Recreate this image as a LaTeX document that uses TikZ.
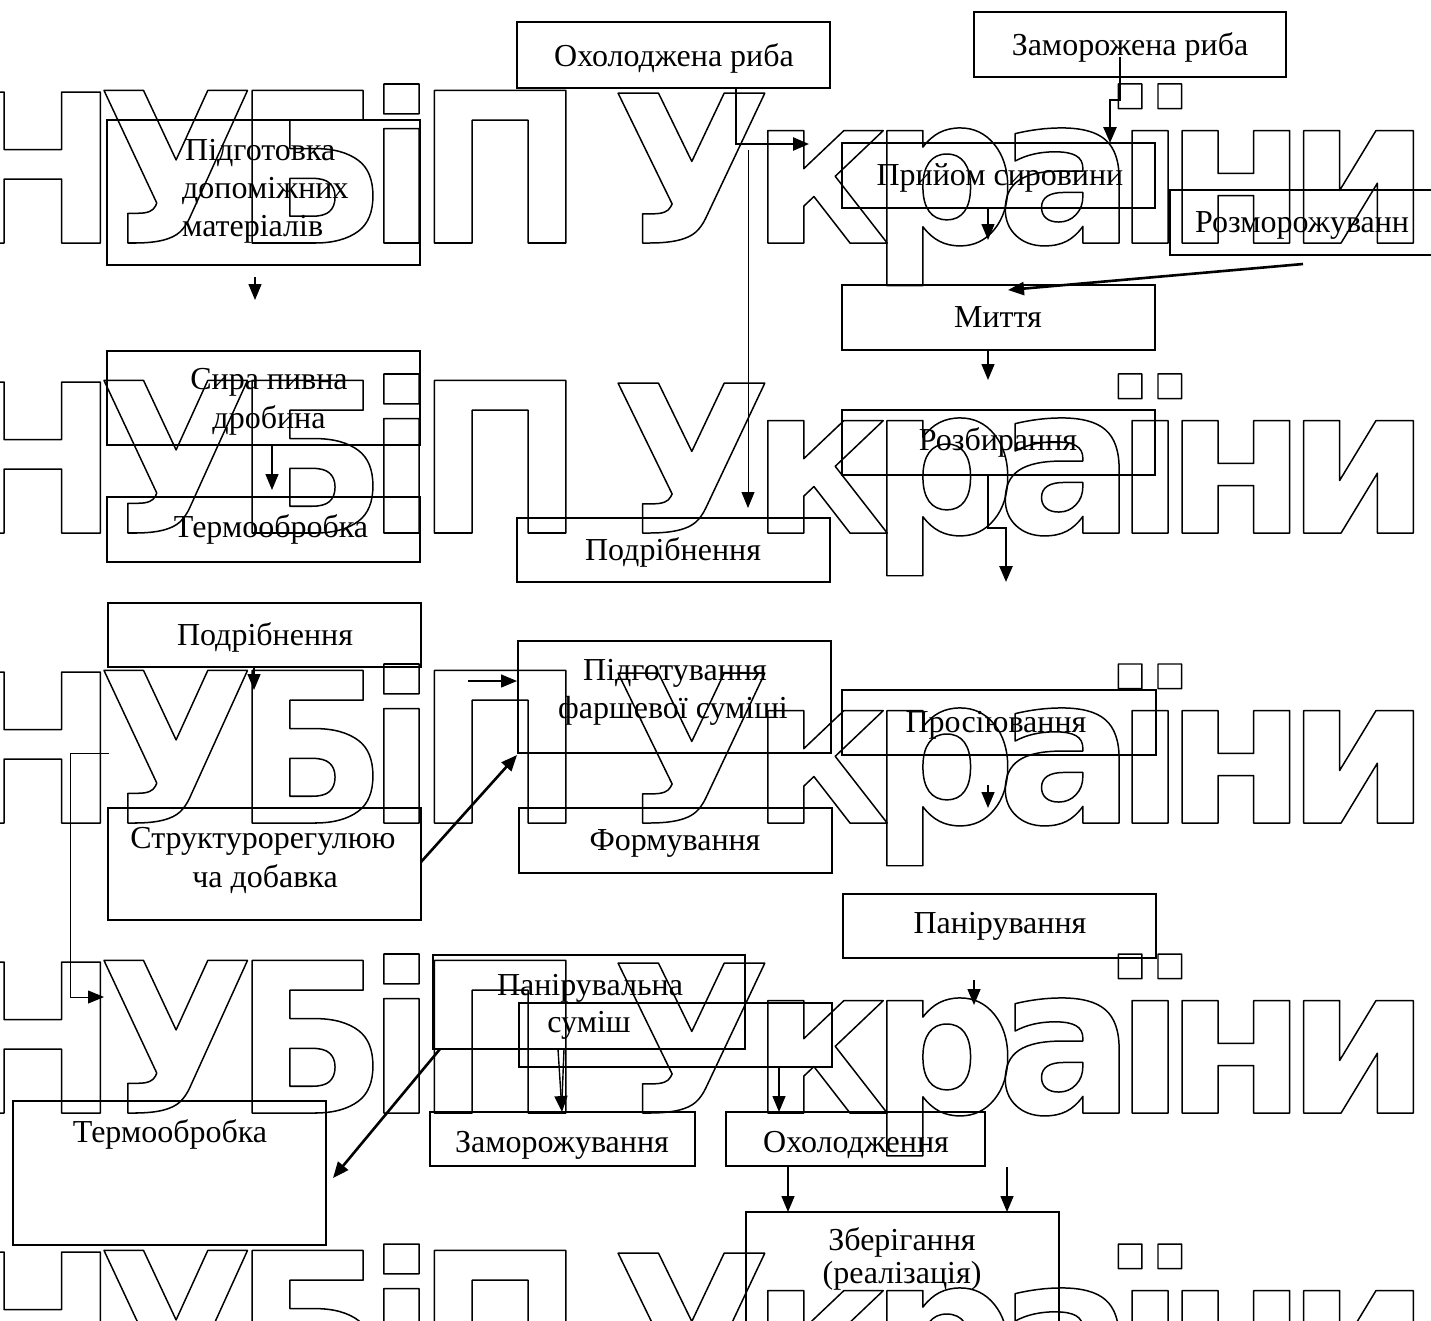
\documentclass[tikz,border=0pt]{standalone}
\usepackage{fontspec}
\setmainfont{Liberation Serif}
\newfontfamily\wmfont{DejaVu Sans}[LetterSpace=-10]
\usetikzlibrary{arrows.meta}
\newcommand\wmword[2]{\resizebox{#1}{159pt}{\wmfont\bfseries\fontsize{207}{207}\selectfont\special{pdf:literal direct 1 Tr 1.5 w 1 j}#2\special{pdf:literal direct 0 Tr}}}
\newcommand\wmplain[1]{{\wmfont\bfseries\fontsize{207}{207}\selectfont\special{pdf:literal direct 1 Tr 1.5 w 1 j}#1\special{pdf:literal direct 0 Tr}}}
\begin{document}
\begin{tikzpicture}[x=1pt,y=-1pt,
  box/.style={draw, line width=1.8pt, inner sep=0pt},
  lbl/.style={inner sep=0pt, anchor=base, font=\fontsize{32}{38}\selectfont},
  lblw/.style={lbl, anchor=base west},
  wm/.style={inner sep=0pt, anchor=base west},
  thinl/.style={line width=0.9pt},
  med/.style={line width=1.4pt},
  heavy/.style={line width=2.6pt},
  arr/.style={-{Triangle[length=16pt,width=13pt]}}]
\useasboundingbox (0,0) rectangle (1431,1320);
% watermark
\foreach \yy [count=\ii] in {243,533,823,1113,1403}{
  \node[wm] (wmh\ii) at (-54,\yy) {\wmplain{Н}};
  \node[wm] (wma\ii) at (98,\yy) {\wmword{486pt}{УБіП}};
  \node[wm] (wmb\ii) at (612,\yy) {\wmword{818pt}{України}};
}
% boxes
\node[box, minimum width=313pt, minimum height=66pt] (ohol) at (673.5,55) {};
\node[box, minimum width=312pt, minimum height=65pt] (zamr) at (1130,44.5) {};
\node[box, minimum width=313pt, minimum height=145pt] (pidg) at (263.5,192.5) {};
\node[box, minimum width=313pt, minimum height=65pt] (pryi) at (998.5,175.5) {};
\node[box, minimum width=313pt, minimum height=65pt] (rozm) at (1326.5,222.5) {};
\node[box, minimum width=313pt, minimum height=65pt] (myt) at (998.5,317.5) {};
\node[box, minimum width=313pt, minimum height=94pt] (syra) at (263.5,398) {};
\node[box, minimum width=313pt, minimum height=65pt] (rozb) at (998.5,442.5) {};
\node[box, minimum width=313pt, minimum height=65pt] (term1) at (263.5,529.5) {};
\node[box, minimum width=313pt, minimum height=64pt] (podr1) at (673.5,550) {};
\node[box, minimum width=313pt, minimum height=64pt] (podr2) at (264.5,635) {};
\node[box, minimum width=313pt, minimum height=112pt] (pidgf) at (674.5,697) {};
\node[box, minimum width=314pt, minimum height=65pt] (pros) at (999,722.5) {};
\node[box, minimum width=313pt, minimum height=112pt] (strk) at (264.5,864) {};
\node[box, minimum width=313pt, minimum height=65pt] (form) at (675.5,840.5) {};
\node[box, minimum width=313pt, minimum height=64pt] (panir) at (999.5,926) {};
\node[box, minimum width=312pt, minimum height=94pt] (pansum) at (589,1002) {};
\node[box, minimum width=313pt, minimum height=64pt] (emptyb) at (675.5,1035) {};
\node[box, minimum width=313pt, minimum height=144pt] (term2) at (169.5,1173) {};
\node[box, minimum width=265pt, minimum height=54pt] (zamv) at (562.5,1139) {};
\node[box, minimum width=259pt, minimum height=54pt] (oholn) at (855.5,1139) {};
\node[box, minimum width=313pt, minimum height=148pt] (zber) at (902.5,1286) {};
% labels
\node[lbl] (tohol) at (674,66) {Охолоджена риба};
\node[lbl] (tzamr) at (1130,55) {Заморожена риба};
\node[lblw] (tpidg1) at (185,160) {Підготовка};
\node[lblw] (tpidg2) at (182,198) {допоміжних};
\node[lblw] (tpidg3) at (182,236) {матеріалів};
\node[lbl] (tpryi) at (1000,185) {Прийом сировини};
\node[lblw] (trozm) at (1195,232) {Розморожуванн};
\node[lbl] (tmyt) at (998,327) {Миття};
\node[lbl] (tsyra1) at (269,389) {Сира пивна};
\node[lbl] (tsyra2) at (269,428) {дробина};
\node[lbl] (trozb) at (998,450) {Розбирання};
\node[lbl] (tterm1) at (271,537) {Термообробка};
\node[lbl] (tpodr1) at (673,560) {Подрібнення};
\node[lbl] (tpodr2) at (265,645) {Подрібнення};
\node[lbl] (tpidgf1) at (675,680) {Підготування};
\node[lbl] (tpidgf2) at (673,718) {фаршевої суміші};
\node[lbl] (tpros) at (996,732) {Просіювання};
\node[lbl] (tstrk1) at (263,848) {Структурорегулюю};
\node[lbl] (tstrk2) at (265,887) {ча добавка};
\node[lbl] (tform) at (675,850) {Формування};
\node[lbl] (tpanir) at (1000,933) {Панірування};
\node[lbl] (tpansum1) at (590,995) {Панірувальна};
\node[lbl] (tpansum2) at (589,1032) {суміш};
\node[lbl] (tterm2) at (170,1142) {Термообробка};
\node[lbl] (tzamv) at (562,1152) {Заморожування};
\node[lbl] (toholn) at (856,1152) {Охолодження};
\node[lbl] (tzber1) at (902,1250) {Зберігання};
\node[lbl] (tzber2) at (902,1283) {(реалізація)};
% connector points
\coordinate (a1) at (736,88); \coordinate (a2) at (736,144); \coordinate (a3) at (809,144);
\coordinate (b1) at (748,150); \coordinate (b2) at (748,508);
\coordinate (c1) at (1120,57); \coordinate (c2) at (1120,100); \coordinate (c3) at (1110,100); \coordinate (c4) at (1110,143);
\coordinate (d1) at (988,208); \coordinate (d2) at (988,240);
\coordinate (e1) at (1303,264); \coordinate (e2) at (1008,290);
\coordinate (f1) at (988,350); \coordinate (f2) at (988,380);
\coordinate (g1) at (988,475); \coordinate (g2) at (988,528); \coordinate (g3) at (1006,528); \coordinate (g4) at (1006,582);
\coordinate (h1) at (255,277); \coordinate (h2) at (255,300);
\coordinate (i1) at (272,445); \coordinate (i2) at (272,490);
\coordinate (j1) at (254,667); \coordinate (j2) at (254,690);
\coordinate (k1) at (468,681); \coordinate (k2) at (517,681);
\coordinate (m1) at (109,753); \coordinate (m2) at (70,753); \coordinate (m3) at (70,997); \coordinate (m4) at (104,997);
\coordinate (n1) at (421,862); \coordinate (n2) at (517,755);
\coordinate (o1) at (440,1049); \coordinate (o2) at (333,1178);
\coordinate (p1) at (558,1049); \coordinate (p2) at (562,1112); \coordinate (p3) at (564,1049); \coordinate (p4) at (562,1100);
\coordinate (q1) at (779,1067); \coordinate (q2) at (779,1112);
\coordinate (r1) at (788,1167); \coordinate (r2) at (788,1212);
\coordinate (s1) at (1007,1167); \coordinate (s2) at (1007,1212);
\coordinate (t1) at (974,980); \coordinate (t2) at (974,1005);
\coordinate (u1) at (988,785); \coordinate (u2) at (988,808);
% connectors
\draw[heavy,arr] (a1) -- (a2) -- (a3);
\draw[thinl,arr] (b1) -- (b2);
\draw[heavy,arr] (c1) -- (c2) -- (c3) -- (c4);
\draw[med,arr] (d1) -- (d2);
\draw[heavy,arr] (e1) -- (e2);
\draw[med,arr] (f1) -- (f2);
\draw[heavy,arr] (g1) -- (g2) -- (g3) -- (g4);
\draw[med,arr] (h1) -- (h2);
\draw[med,arr] (i1) -- (i2);
\draw[med,arr] (j1) -- (j2);
\draw[med,arr] (k1) -- (k2);
\draw[thinl,arr] (m1) -- (m2) -- (m3) -- (m4);
\draw[heavy,arr] (n1) -- (n2);
\draw[heavy,arr] (o1) -- (o2);
\draw[med,arr] (p1) -- (p2);
\draw[med] (p3) -- (p4);
\draw[med,arr] (q1) -- (q2);
\draw[med,arr] (r1) -- (r2);
\draw[med,arr] (s1) -- (s2);
\draw[med,arr] (t1) -- (t2);
\draw[med,arr] (u1) -- (u2);
\end{tikzpicture}
\end{document}
